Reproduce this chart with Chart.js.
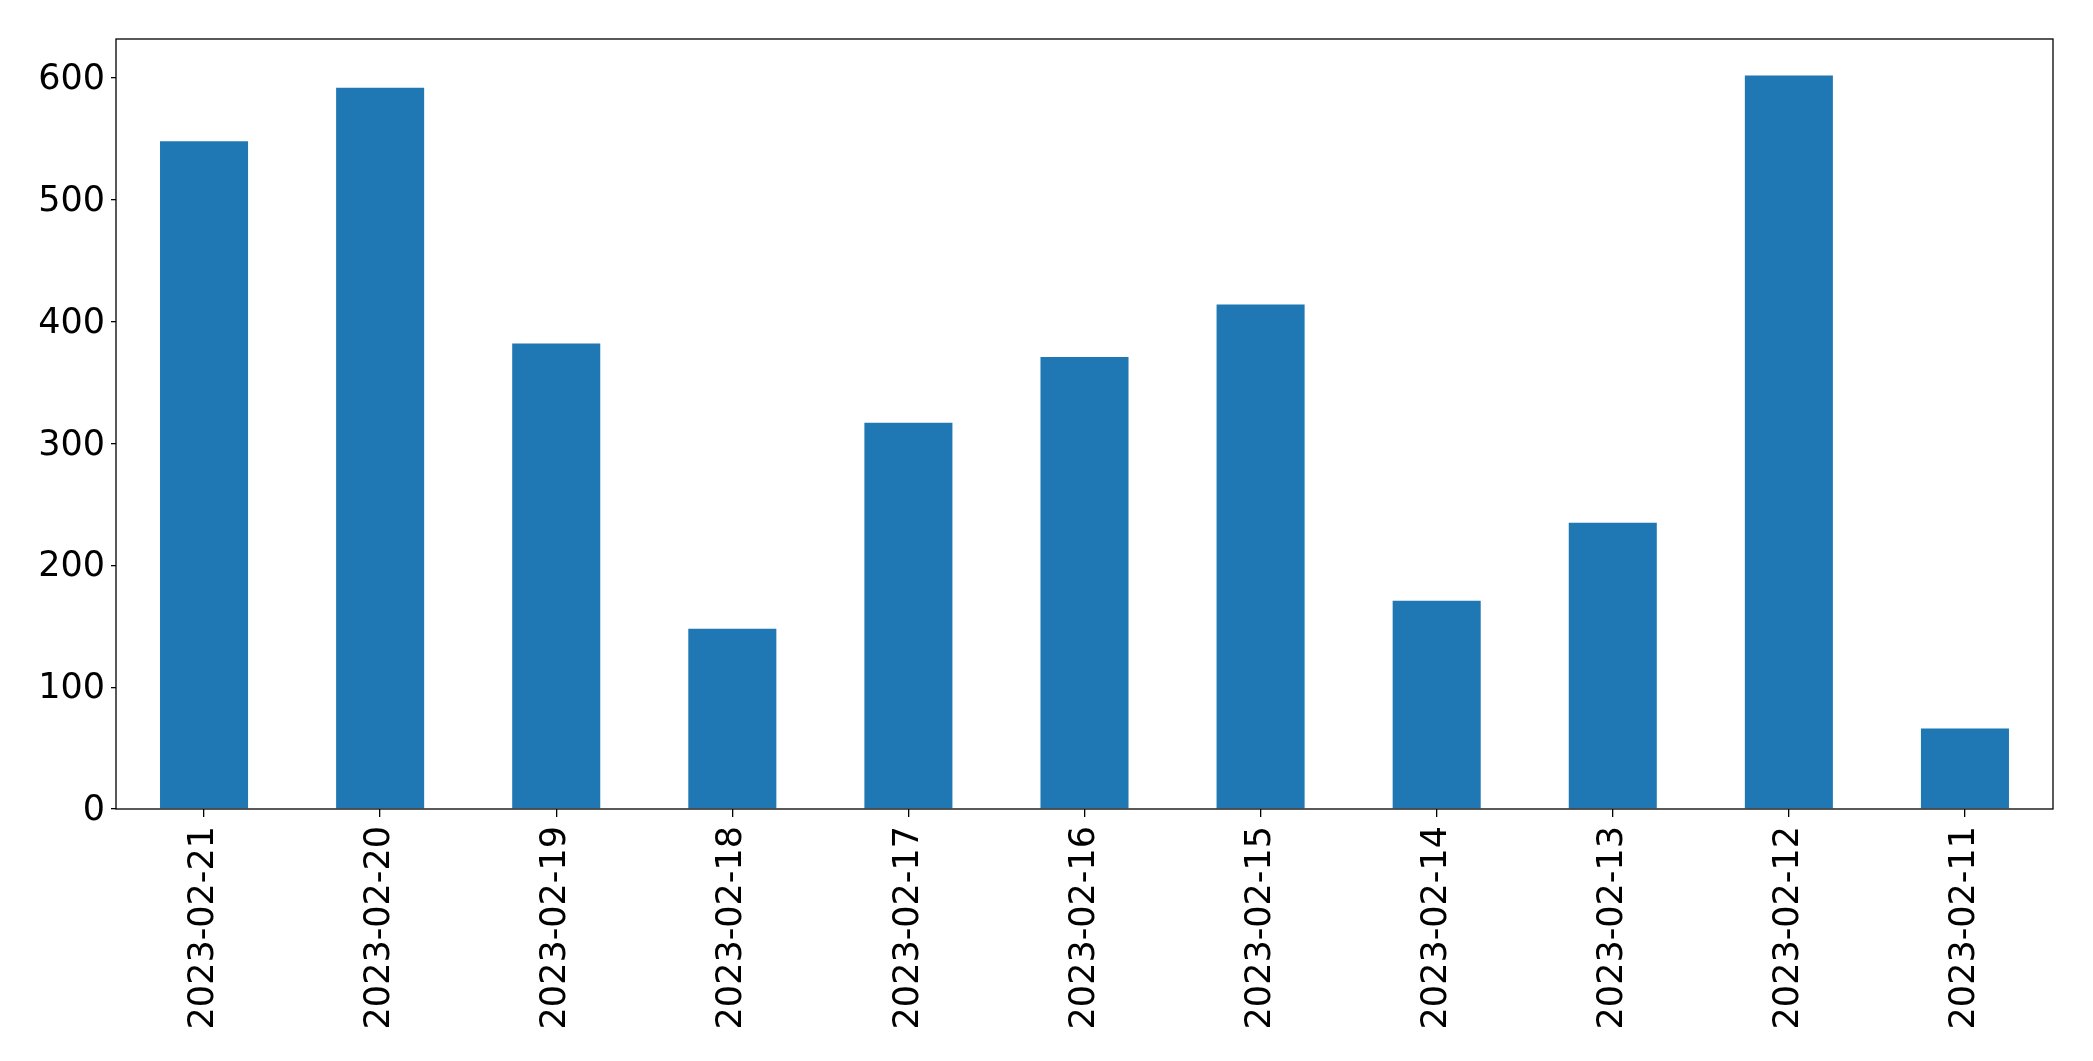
<!DOCTYPE html>
<html>
<head>
<meta charset="utf-8">
<script src="https://cdn.jsdelivr.net/npm/chart.js@4/dist/chart.umd.min.js"></script>
<style>
  html, body { margin: 0; padding: 0; background: #fff; }
  #wrap { width: 2093px; height: 1061px; }
</style>
</head>
<body>
<div id="wrap"><canvas id="myChart" width="2093" height="1061"></canvas></div>
<script>
const labels = ['2023-02-21', '2023-02-20', '2023-02-19', '2023-02-18', '2023-02-17', '2023-02-16',
                '2023-02-15', '2023-02-14', '2023-02-13', '2023-02-12', '2023-02-11'];
const values = [548, 592, 382, 148, 317, 371, 414, 171, 235, 602, 66];
const yTicks = [0, 100, 200, 300, 400, 500, 600];
const yMax = 632;

// box round the plot area, like matplotlib's spines
const frame = {
    id: 'frame',
    afterDatasetsDraw(chart) {
        const a = chart.chartArea;
        const c = chart.ctx;
        c.save();
        c.strokeStyle = '#000';
        c.lineWidth = 1.3;
        c.strokeRect(a.left, a.top, a.right - a.left, a.bottom - a.top);
        c.restore();
    }
};

const ctx = document.getElementById('myChart').getContext('2d');
const myChart = new Chart(ctx, {
    type: 'bar',
    data: {
        labels: labels,
        datasets: [{
            data: values,
            backgroundColor: '#1f77b4',
            borderWidth: 0,
            categoryPercentage: 1.0,
            barPercentage: 0.5
        }]
    },
    options: {
        responsive: false,
        animation: false,
        layout: { padding: { top: 39, right: 40, left: 0, bottom: 0 } },
        plugins: {
            legend: { display: false },
            tooltip: { enabled: false }
        },
        scales: {
            x: {
                offset: true,
                grid: { display: true, offset: false, drawOnChartArea: false, drawTicks: true, tickLength: 8, color: '#000', lineWidth: 1.3 },
                border: { display: false },
                ticks: {
                    color: '#000',
                    font: { family: 'DejaVu Sans', size: 35 },
                    minRotation: 90,
                    maxRotation: 90,
                    padding: 9,
                    autoSkip: false
                },
                afterFit(scale) { scale.height = 252; }
            },
            y: {
                min: 0,
                max: yMax,
                grid: { display: true, drawOnChartArea: false, drawTicks: true, tickLength: 5, color: '#000', lineWidth: 1.3 },
                border: { display: false },
                ticks: {
                    color: '#000',
                    font: { family: 'DejaVu Sans', size: 35 },
                    padding: 6,
                    labelOffset: 2
                },
                afterBuildTicks(scale) { scale.ticks = yTicks.map(v => ({ value: v })); },
                afterFit(scale) { scale.width = 116; }
            }
        }
    },
    plugins: [frame]
});
</script>
</body>
</html>
